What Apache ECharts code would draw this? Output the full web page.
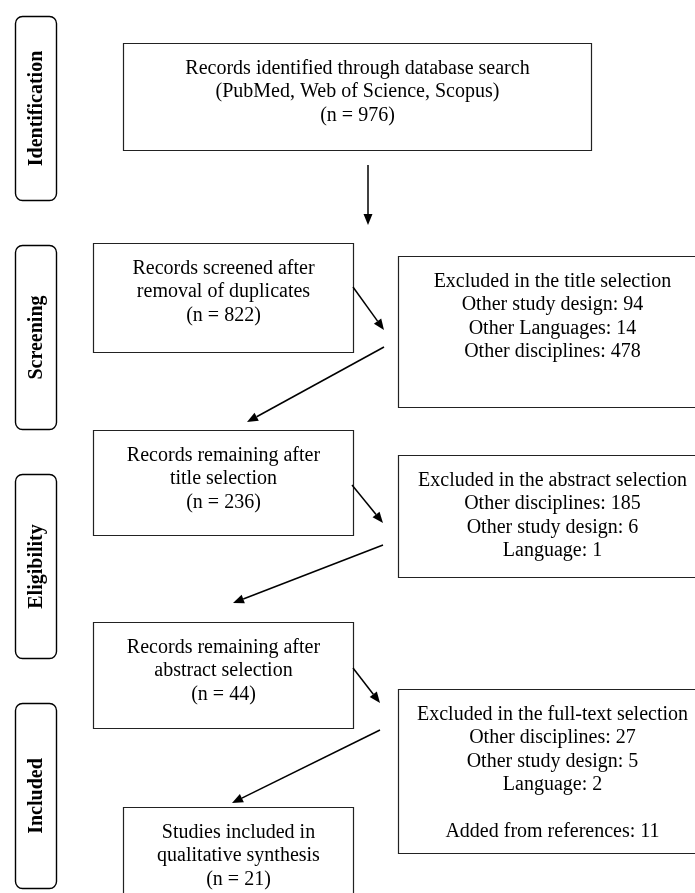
<!DOCTYPE html>
<html><head><meta charset="utf-8">
<script src="https://cdn.jsdelivr.net/npm/echarts@6/dist/echarts.min.js"></script>
<style>html,body{margin:0;padding:0;background:#fff}#c{width:695px;height:893px}</style>
</head><body><div id="c"></div>
<script>
// ---- content ----
const stageNames = ['Identification', 'Screening', 'Eligibility', 'Included'];
const flowLabels = [
  'Records identified through database search\n(PubMed, Web of Science, Scopus)',
  'Records screened after\nremoval of duplicates',
  'Records remaining after\ntitle selection',
  'Records remaining after\nabstract selection',
  'Studies included in\nqualitative synthesis'
];
const flowCounts = [976, 822, 236, 44, 21];
const exclusionTitles = ['Excluded in the title selection', 'Excluded in the abstract selection', 'Excluded in the full-text selection'];
const exclusionReasons = [
  ['Other study design', 'Other Languages', 'Other disciplines'],
  ['Other disciplines', 'Other study design', 'Language'],
  ['Other disciplines', 'Other study design', 'Language']
];
const exclusionCounts = [[94, 14, 478], [185, 6, 1], [27, 5, 2]];
const addedLabel = 'Added from references';
const addedCount = 11;

// ---- layout (drawing units) ----
const W = 695, H = 893;
const stageBoxes = [[15, 16, 41, 184], [15, 245, 41, 184], [15, 474, 41, 184], [15, 703, 41, 185]];
const flowBoxes = [[123, 43, 468, 107], [93, 243, 260, 109], [93, 430, 260, 105], [93, 622, 260, 106], [123, 807, 230, 100]];
const exclBoxes = [[398, 256, 308, 151], [398, 455, 308, 122], [398, 689, 308, 164]];
const arrowSegs = [[368, 165, 368, 225], [353, 287, 384, 330], [384, 347, 247, 422], [352, 485, 383, 523], [383, 545, 233, 603], [353, 668, 380, 703], [380, 730, 232, 803]];

const FONT = '"Liberation Serif", "Times New Roman", serif';

function flowText(i) { return flowLabels[i] + '\n(n = ' + flowCounts[i] + ')'; }
function exclText(i) {
  let t = exclusionTitles[i] + '\n' + exclusionReasons[i].map((r, k) => r + ': ' + exclusionCounts[i][k]).join('\n');
  if (i === exclusionTitles.length - 1) t += '\n\n' + addedLabel + ': ' + addedCount;
  return t;
}

const boxData = [];
stageBoxes.forEach((b, i) => boxData.push({ value: b, kind: 'stage', text: stageNames[i] }));
flowBoxes.forEach((b, i) => boxData.push({ value: b, kind: 'flow', text: flowText(i) }));
exclBoxes.forEach((b, i) => boxData.push({ value: b, kind: 'excl', text: exclText(i) }));

const chart = echarts.init(document.getElementById('c'), null, { renderer: 'canvas' });

function renderBox(params, api) {
  const item = boxData[params.dataIndex];
  const p = api.coord([api.value(0), api.value(1)]);
  const s = api.size([api.value(2), api.value(3)]);
  const x = Math.round(p[0]) + 0.5, y = Math.round(p[1]) + 0.5;
  const w = Math.round(s[0]), h = Math.round(s[1]);
  const children = [];
  if (item.kind === 'stage') {
    children.push({ type: 'rect', shape: { x, y, width: w, height: h, r: 7 }, style: { fill: '#fff', stroke: '#000', lineWidth: 1.4 } });
    children.push({ type: 'text', x: x + w / 2 + 1, y: y + h / 2, rotation: Math.PI / 2,
      style: { text: item.text, font: 'bold 20px ' + FONT, fill: '#000', align: 'center', verticalAlign: 'middle' } });
  } else {
    children.push({ type: 'rect', shape: { x, y, width: w, height: h }, style: { fill: '#fff', stroke: '#222', lineWidth: 1.2 } });
    children.push({ type: 'text', x: x + w / 2, y: y + 13,
      style: { text: item.text, font: '20px ' + FONT, fill: '#000', align: 'center', verticalAlign: 'top', lineHeight: 23.5 } });
  }
  return { type: 'group', children };
}

function renderArrow(params, api) {
  const a = api.coord([api.value(0), api.value(1)]);
  const b = api.coord([api.value(2), api.value(3)]);
  const dx = b[0] - a[0], dy = b[1] - a[1];
  const len = Math.sqrt(dx * dx + dy * dy);
  const ux = dx / len, uy = dy / len;
  const hl = 11, hw = 4.5;
  const bx = b[0] - ux * hl, by = b[1] - uy * hl;
  return {
    type: 'group', children: [
      { type: 'line', shape: { x1: a[0], y1: a[1], x2: bx, y2: by }, style: { stroke: '#000', lineWidth: 1.5 } },
      { type: 'polygon', shape: { points: [[b[0], b[1]], [bx - uy * hw, by + ux * hw], [bx + uy * hw, by - ux * hw]] }, style: { fill: '#000' } }
    ]
  };
}

chart.setOption({
  animation: false,
  backgroundColor: '#fff',
  grid: { left: 0, right: 0, top: 0, bottom: 0 },
  xAxis: { type: 'value', min: 0, max: W, show: false },
  yAxis: { type: 'value', min: 0, max: H, inverse: true, show: false },
  series: [
    { type: 'custom', renderItem: renderBox, data: boxData.map(d => d.value), clip: false, silent: true },
    { type: 'custom', renderItem: renderArrow, data: arrowSegs, clip: false, silent: true }
  ]
});
</script>
</body></html>
